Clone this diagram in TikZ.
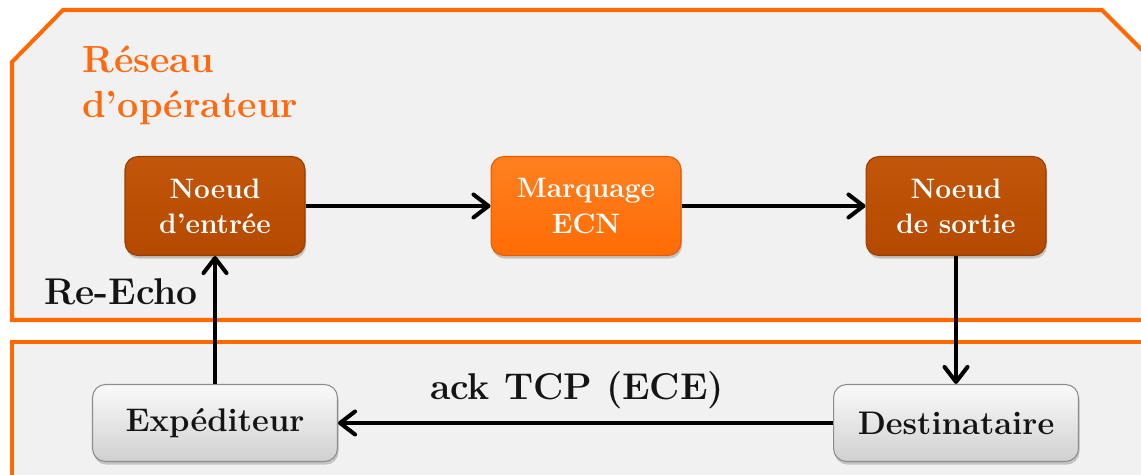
\documentclass[tikz,border=0pt]{standalone}
\usepackage{fontspec}
\usetikzlibrary{arrows.meta,shadows,calc}
\definecolor{panelorange}{HTML}{FF6A00}
\definecolor{panelfill}{HTML}{F1F1F1}
\definecolor{darkTop}{HTML}{C2560A}
\definecolor{darkBot}{HTML}{B44A00}
\definecolor{darkBorder}{HTML}{9A3E00}
\definecolor{brightTop}{HTML}{FF8020}
\definecolor{brightBot}{HTML}{FF6C04}
\definecolor{brightBorder}{HTML}{E25C00}
\definecolor{grayTop}{HTML}{FAFAFA}
\definecolor{grayBot}{HTML}{D0D0D0}
\definecolor{grayBorder}{HTML}{8C8C8C}
\definecolor{labelorange}{HTML}{FF6A10}
\tikzset{
  panel/.style={draw=panelorange, line width=2.3pt, fill=panelfill, line join=miter},
  boxbase/.style={rounded corners=0.26cm, line width=0.6pt, align=center,
    drop shadow={opacity=0.4, shadow xshift=0.6pt, shadow yshift=-1.8pt}},
  darkbox/.style={boxbase, top color=darkTop, bottom color=darkBot, draw=darkBorder,
    text=white, minimum width=3.6cm, minimum height=1.98cm,
    font=\bfseries\fontsize{16}{20}\selectfont},
  brightbox/.style={boxbase, top color=brightTop, bottom color=brightBot, draw=brightBorder,
    text=white, minimum width=3.8cm, minimum height=1.98cm,
    font=\bfseries\fontsize{16}{20}\selectfont},
  graybox/.style={boxbase, top color=grayTop, bottom color=grayBot, draw=grayBorder,
    text=black!92, minimum width=4.9cm, minimum height=1.54cm,
    font=\bfseries\fontsize{18.6}{21}\selectfont},
  flow/.style={line width=2.3pt, line join=round,
    -{Straight Barb[length=0.3cm, width=0.46cm, line join=round, line cap=round]}},
  biglabel/.style={font=\bfseries\fontsize{21.2}{24}\selectfont, text=black!92}
}
\begin{document}
\begin{tikzpicture}[x=0.02cm, y=-0.02cm]
\useasboundingbox (0,0) rectangle (1141,475);
\fill[white] (0,0) rectangle (1141,475);
\clip (0,0) rectangle (1141,475);
% panels
\draw[panel] (12,62) -- (63,10) -- (1102,10) -- (1152,60) -- (1152,320) -- (12,320) -- cycle;
\draw[panel] (1152,342) -- (12,342) -- (12,500) -- (1152,500) -- cycle;
% title
\node[anchor=base west, text=labelorange, font=\bfseries\fontsize{21.5}{25.5}\selectfont, inner sep=0pt]
  (title) at (82,73) {Réseau};
\node[anchor=base west, text=labelorange, font=\bfseries\fontsize{21.5}{25.5}\selectfont, inner sep=0pt]
  (title2) at (82,118) {d’opérateur};
% nodes
\node[darkbox] (entree) at (215,206) {Noeud\\d’entrée};
\node[brightbox] (marq) at (586,206) {Marquage\\ECN};
\node[darkbox] (sortie) at (956,206) {Noeud\\de sortie};
\node[graybox] (exp) at (215,423) {Expéditeur};
\node[graybox] (dest) at (956,423) {Destinataire};
% connectors
\draw[flow] (entree) -- (marq);
\draw[flow] (marq) -- (sortie);
\draw[flow] (sortie.south) -- (dest.north);
\draw[flow] (dest.west) -- (exp.east);
\draw[flow] (exp.north) -- (entree.south);
% labels
\node[biglabel] (reecho) at (121,292) {Re-Echo};
\node[biglabel] (ack) at (577,390) {ack TCP (ECE)};
\end{tikzpicture}
\end{document}
